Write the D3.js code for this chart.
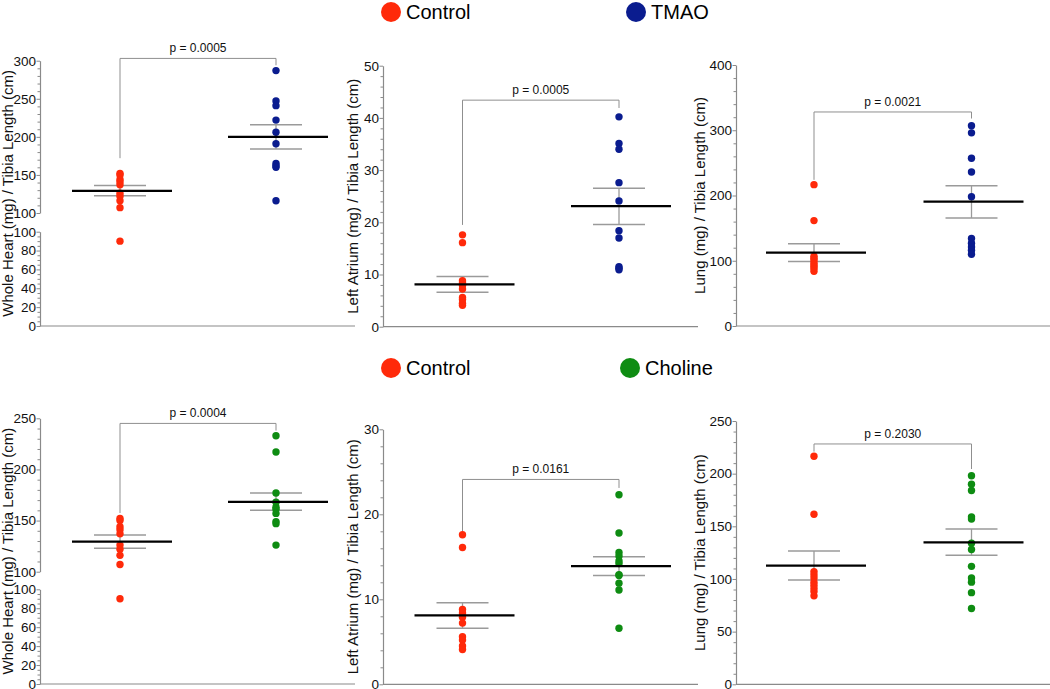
<!DOCTYPE html>
<html>
<head>
<meta charset="utf-8">
<script src="https://cdn.jsdelivr.net/npm/d3@7"></script>
<style>
  body { margin: 0; background: #fff; }
  svg { display: block; font-family: "Liberation Sans", Arial, sans-serif; }
</style>
</head>
<body>
<svg id="chart" width="1050" height="689"></svg>
<script>
// ---------- DATA ----------
const groupsTop = ["Control", "TMAO"];
const groupsBottom = ["Control", "Choline"];

const yTitles = [
  "Whole Heart (mg) / Tibia Length (cm)",
  "Left Atrium (mg) / Tibia Length (cm)",
  "Lung (mg) / Tibia Length (cm)"
];

// Whole heart
const heartControl = [152, 150, 144, 141, 137, 126, 122, 116, 107, 90];
const heartTMAO = [287, 247, 241, 222, 206, 191, 165, 162, 160, 116];
const heartCholine = [233, 217, 177, 168, 163, 161, 157, 149, 147, 126];
// Left atrium
const laControl = [17.6, 16.1, 8.8, 8.4, 7.9, 7.2, 5.6, 5.2, 4.5, 4.1];
const laTMAO = [40.2, 35.1, 34.0, 27.6, 24.1, 18.4, 17.0, 11.5, 11.2, 10.9];
const laCholine = [22.3, 17.8, 15.5, 15.1, 14.5, 14.2, 12.9, 12.8, 11.9, 11.1, 6.6];
// Lung
const lungControl = [216.6, 161.5, 107, 104, 101, 97, 94, 91, 88, 84];
const lungTMAO = [307, 296, 257, 236, 198, 134, 127, 121, 116, 110];
const lungCholine = [198, 190, 184, 159, 157, 134, 128, 112, 101, 97, 87, 72];

// mean and SEM (upper, lower) per group
const meansTop = [[129, 200], [8.1, 23.1], [112.5, 190.5]];
const semHiTop = [[136, 216], [9.6, 26.5], [126, 215]];
const semLoTop = [[122.5, 184], [6.6, 19.6], [99, 165.5]];
const meansBottom = [[129.4, 168.2], [8.1, 13.9], [112.7, 134.8]];
const semHiBottom = [[136, 177], [9.6, 15.0], [126.5, 147.5]];
const semLoBottom = [[123, 160], [6.6, 12.8], [99, 122.5]];

const pTop = ["p = 0.0005", "p = 0.0005", "p = 0.0021"];
const pBottom = ["p = 0.0004", "p = 0.0161", "p = 0.2030"];
// bracket level, left drop end, right drop end (data units)
const bracketTop = [[303, 172, 294], [43.4, 19.5, 41.9], [328, 224, 318]];
const bracketBottom = [[245, 157.4, 238], [24.1, 17.95, 23.1], [228.2, 220.9, 204.4]];

// axis ticks
const ticksHeartUpperTop = [100, 150, 200, 250, 300];
const ticksHeartUpperBottom = [100, 150, 200, 250];
const ticksHeartLower = [0, 20, 40, 60, 80, 100];
const ticksLATop = [0, 10, 20, 30, 40, 50];
const ticksLABottom = [0, 10, 20, 30];
const ticksLungTop = [0, 100, 200, 300, 400];
const ticksLungBottom = [0, 50, 100, 150, 200, 250];

const colors = { Control: "#ff2a0a", TMAO: "#0a1c8f", Choline: "#0e8c12" };

// ---------- LAYOUT ----------
const svg = d3.select("#chart");
const axisColor = "#8a8a8a";

function makePanel(cfg) {
  const g = svg.append("g");
  const segs = cfg.segments.map(s => ({
    ...s,
    scale: d3.scaleLinear().domain(s.domain).range(s.range)
  }));
  const yOf = v => {
    for (let i = segs.length - 1; i >= 0; i--) {
      if (v >= segs[i].domain[0] || i === 0) return segs[i].scale(v);
    }
  };
  const x = d3.scalePoint().domain(cfg.groups).range([cfg.cx0, cfg.cx1]);

  // y axis segments
  segs.forEach(s => {
    const minor = d3.range(s.domain[0], s.domain[1] + 1e-9, s.minorStep)
      .filter(v => !s.ticks.some(t => Math.abs(t - v) < 1e-9));
    const ax = d3.axisLeft(s.scale).tickValues(s.ticks).tickSize(3.5).tickSizeOuter(0).tickPadding(0.5);
    const ag = g.append("g").attr("transform", `translate(${cfg.axisX},0)`).call(ax);
    ag.select(".domain").attr("stroke", axisColor).attr("stroke-width", 1.2);
    ag.selectAll(".tick line").attr("stroke", axisColor);
    ag.selectAll(".tick text").attr("fill", "#111").style("font-size", "13.5px")
      .style("font-family", "'Liberation Sans', Arial, sans-serif");
    const axm = d3.axisLeft(s.scale).tickValues(minor).tickSize(2.5).tickFormat("").tickSizeOuter(0);
    const mg = g.append("g").attr("transform", `translate(${cfg.axisX},0)`).call(axm);
    mg.select(".domain").remove();
    mg.selectAll(".tick line").attr("stroke", axisColor);
  });

  // x axis
  g.append("line")
    .attr("x1", cfg.axisX).attr("x2", cfg.xEnd)
    .attr("y1", segs[0].range[0]).attr("y2", segs[0].range[0])
    .attr("stroke", axisColor).attr("stroke-width", 1.2);

  // y title
  const mid = (segs[0].range[0] + segs[segs.length - 1].range[1]) / 2;
  g.append("text")
    .attr("transform", `translate(${cfg.titleX},${mid}) rotate(-90)`)
    .attr("text-anchor", "middle")
    .attr("dominant-baseline", "central")
    .style("font-size", "15px").attr("fill", "#111")
    .text(cfg.title);

  // bracket
  const [bl, bL, bR] = cfg.bracket;
  g.append("path")
    .attr("d", `M${x(cfg.groups[0])},${yOf(bL)}V${yOf(bl)}H${x(cfg.groups[1])}V${yOf(bR)}`)
    .attr("fill", "none").attr("stroke", "#8f8f8f").attr("stroke-width", 1);
  g.append("text")
    .attr("x", (x(cfg.groups[0]) + x(cfg.groups[1])) / 2)
    .attr("y", yOf(bl) - 6)
    .attr("text-anchor", "middle")
    .style("font-size", "12px").attr("fill", "#111")
    .text(cfg.p);

  // SEM
  cfg.groups.forEach((grp, i) => {
    const cx = x(grp);
    const hi = yOf(cfg.semHi[i]), lo = yOf(cfg.semLo[i]);
    g.append("line").attr("x1", cx).attr("x2", cx).attr("y1", hi).attr("y2", lo)
      .attr("stroke", "#9a9a9a").attr("stroke-width", 1.3);
    [hi, lo].forEach(yy => g.append("line")
      .attr("x1", cx - 26).attr("x2", cx + 26).attr("y1", yy).attr("y2", yy)
      .attr("stroke", "#9a9a9a").attr("stroke-width", 1.5));
  });

  // dots
  cfg.groups.forEach((grp, i) => {
    g.append("g").selectAll("circle").data(cfg.values[i]).join("circle")
      .attr("cx", x(grp)).attr("cy", d => yOf(d)).attr("r", 3.7)
      .attr("fill", colors[grp]);
  });

  // mean
  cfg.groups.forEach((grp, i) => {
    const cx = x(grp), m = yOf(cfg.means[i]);
    g.append("line").attr("x1", cx - 48).attr("x2", cx + 52).attr("y1", m).attr("y2", m)
      .attr("stroke", "#000").attr("stroke-width", 2.2);
  });
}

function legend(y, groups, xs) {
  groups.forEach((grp, i) => {
    svg.append("circle").attr("cx", xs[i]).attr("cy", y).attr("r", 10).attr("fill", colors[grp]);
    svg.append("text").attr("x", xs[i] + 15).attr("y", y).attr("dominant-baseline", "central")
      .style("font-size", "20px").attr("fill", "#000").text(grp);
  });
}

legend(12, groupsTop, [391, 636]);
legend(368, groupsBottom, [391, 630]);

const colX = [
  { axisX: 40, titleX: 7, xEnd: 355, cx0: 120, cx1: 276 },
  { axisX: 383, titleX: 352, xEnd: 698, cx0: 462.5, cx1: 619 },
  { axisX: 736, titleX: 699, xEnd: 1050, cx0: 814, cx1: 971.5 }
];

// Top row
makePanel({ ...colX[0], groups: groupsTop, title: yTitles[0],
  segments: [
    { domain: [0, 100], range: [326, 231.7], ticks: ticksHeartLower, minorStep: 5 },
    { domain: [100, 300], range: [213, 60.7], ticks: ticksHeartUpperTop, minorStep: 10 }
  ],
  values: [heartControl, heartTMAO], means: meansTop[0], semHi: semHiTop[0], semLo: semLoTop[0],
  bracket: bracketTop[0], p: pTop[0] });
makePanel({ ...colX[1], groups: groupsTop, title: yTitles[1],
  segments: [{ domain: [0, 50], range: [326.7, 65.7], ticks: ticksLATop, minorStep: 2 }],
  values: [laControl, laTMAO], means: meansTop[1], semHi: semHiTop[1], semLo: semLoTop[1],
  bracket: bracketTop[1], p: pTop[1] });
makePanel({ ...colX[2], groups: groupsTop, title: yTitles[2],
  segments: [{ domain: [0, 400], range: [326, 65], ticks: ticksLungTop, minorStep: 20 }],
  values: [lungControl, lungTMAO], means: meansTop[2], semHi: semHiTop[2], semLo: semLoTop[2],
  bracket: bracketTop[2], p: pTop[2] });

// Bottom row
makePanel({ ...colX[0], groups: groupsBottom, title: yTitles[0],
  segments: [
    { domain: [0, 100], range: [684, 589.3], ticks: ticksHeartLower, minorStep: 5 },
    { domain: [100, 250], range: [571.7, 418.3], ticks: ticksHeartUpperBottom, minorStep: 10 }
  ],
  values: [heartControl, heartCholine], means: meansBottom[0], semHi: semHiBottom[0], semLo: semLoBottom[0],
  bracket: bracketBottom[0], p: pBottom[0] });
makePanel({ ...colX[1], groups: groupsBottom, title: yTitles[1],
  segments: [{ domain: [0, 30], range: [684.3, 429.3], ticks: ticksLABottom, minorStep: 2 }],
  values: [laControl, laCholine], means: meansBottom[1], semHi: semHiBottom[1], semLo: semLoBottom[1],
  bracket: bracketBottom[1], p: pBottom[1] });
makePanel({ ...colX[2], groups: groupsBottom, title: yTitles[2],
  segments: [{ domain: [0, 250], range: [684.3, 421], ticks: ticksLungBottom, minorStep: 10 }],
  values: [lungControl, lungCholine], means: meansBottom[2], semHi: semHiBottom[2], semLo: semLoBottom[2],
  bracket: bracketBottom[2], p: pBottom[2] });
</script>
</body>
</html>
